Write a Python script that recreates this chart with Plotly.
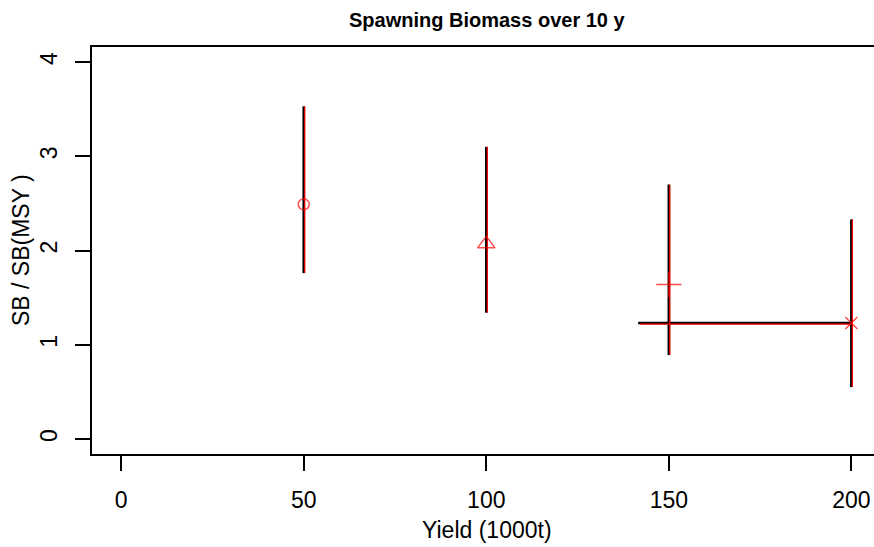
import plotly.graph_objects as go

# ---- data ----
yield_x = [50, 100, 150, 200]
sb_median = [2.49, 2.07, 1.64, 1.23]
sb_lower = [1.76, 1.34, 0.89, 0.55]
sb_upper = [3.53, 3.10, 2.70, 2.33]
marker_symbols = ["circle-open", "triangle-up-open", "cross-thin-open", "x-thin-open"]
marker_sizes = [11, 15, 18, 12]
hline_x = [141.6, 200]
hline_y = 1.23
x_ticks = [0, 50, 100, 150, 200]
y_ticks = [0, 1, 2, 3, 4]
title_text = "<b>Spawning Biomass over 10 y</b>"
x_title = "Yield (1000t)"
y_title = "SB / SB(MSY )"

W, H = 874, 547
ML, MR, MT, MB = 92, 0, 47, 93
x_range = [-8, 206.2]
y_range = [-0.16, 4.16]
px_x = (x_range[1] - x_range[0]) / (W - ML - MR)   # data units per pixel
px_y = (y_range[1] - y_range[0]) / (H - MT - MB)

FONT = "Liberation Sans, Arial, sans-serif"

def seg_xy(xs, lo, hi, dx=0.0):
    X, Y = [], []
    for x, a, b in zip(xs, lo, hi):
        X += [x + dx, x + dx, None]
        Y += [a, b, None]
    return X, Y

fig = go.Figure()

# black underlay of the bars
bx, by = seg_xy(yield_x, sb_lower, sb_upper)
fig.add_trace(go.Scatter(x=bx + [None] + hline_x, y=by + [None] + [hline_y, hline_y],
                         mode="lines", line=dict(color="black", width=2.6),
                         showlegend=False, hoverinfo="skip"))
# red overlay, shifted by ~1px
rx, ry = seg_xy(yield_x, sb_lower, sb_upper, dx=1.0 * px_x)
fig.add_trace(go.Scatter(x=rx + [None] + [hline_x[0] + 2 * px_x, hline_x[1] + 0.5 * px_x],
                         y=ry + [None] + [hline_y - px_y, hline_y - px_y],
                         mode="lines", line=dict(color="red", width=1.2),
                         showlegend=False, hoverinfo="skip"))
# markers
fig.add_trace(go.Scatter(x=yield_x, y=sb_median, mode="markers",
                         marker=dict(symbol=marker_symbols, size=marker_sizes, color="red",
                                     line=dict(color="red", width=1.5)),
                         showlegend=False))

def py(pix):  # pixel row -> paper y
    return 1 + (MT - pix) / (H - MT - MB)

def pxp(pix):  # pixel col -> paper x
    return (pix - ML) / (W - ML - MR)

fig.add_annotation(text=title_text, xref="paper", yref="paper", x=pxp(487), y=py(20),
                   xanchor="center", yanchor="middle", showarrow=False,
                   font=dict(family=FONT, size=20, color="black"))
fig.add_annotation(text=x_title, xref="paper", yref="paper", x=pxp(487), y=py(530),
                   xanchor="center", yanchor="middle", showarrow=False,
                   font=dict(family=FONT, size=23, color="black"))
fig.add_annotation(text=y_title, xref="paper", yref="paper", x=pxp(21), y=py(250),
                   xanchor="center", yanchor="middle", showarrow=False, textangle=-90,
                   font=dict(family=FONT, size=23, color="black"))

axis_common = dict(showgrid=False, zeroline=False, showline=True, linecolor="black",
                   linewidth=1.5, ticks="outside", ticklen=15, tickwidth=1.5,
                   tickcolor="black", tickfont=dict(family=FONT, size=23, color="black"))

fig.update_layout(
    width=W, height=H, autosize=False,
    margin=dict(l=ML, r=MR, t=MT, b=MB, pad=0),
    paper_bgcolor="white", plot_bgcolor="white",
    xaxis=dict(range=x_range, tickvals=x_ticks, mirror=True, ticklabelstandoff=10,
               **axis_common),
    yaxis=dict(range=y_range, tickvals=y_ticks, mirror=False, tickangle=-90,
               ticklabelstandoff=9, **axis_common),
)

fig.write_html("out.html")
